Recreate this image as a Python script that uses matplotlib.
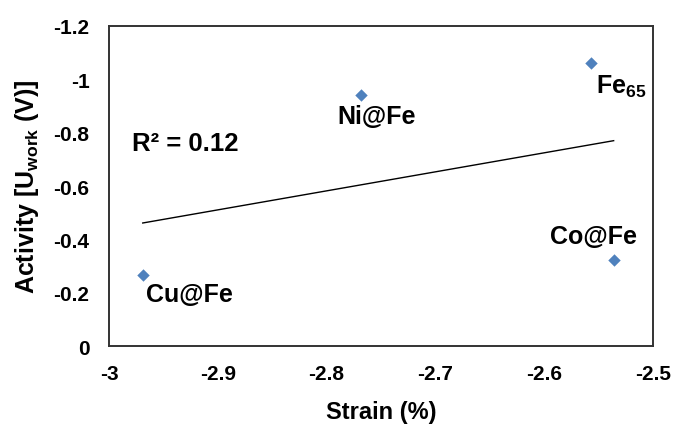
import numpy as np
import matplotlib
matplotlib.use("Agg")
import matplotlib.pyplot as plt

# strain (%) vs activity (U_work, V) for the core@shell particles
names = ["Cu@Fe", "Ni@Fe", r"Fe$_{\mathbf{65}}$", "Co@Fe"]
strain = [-2.969, -2.768, -2.557, -2.536]
activity = [-0.267, -0.940, -1.060, -0.324]

# label offsets (points) and alignment per sample
offsets = [(2, -14), (11, -15), (4, -21), (17, 17)]
aligns = [("left", "center"), ("center", "center"), ("left", "baseline"), ("right", "center")]

x_ticks = [-3, -2.9, -2.8, -2.7, -2.6, -2.5]
y_ticks = [0, -0.2, -0.4, -0.6, -0.8, -1, -1.2]

plt.rcParams["font.family"] = ["Liberation Sans", "DejaVu Sans"]
plt.rcParams["font.weight"] = "bold"
plt.rcParams["mathtext.fontset"] = "custom"
plt.rcParams["mathtext.rm"] = "Liberation Sans:bold"
plt.rcParams["mathtext.bf"] = "Liberation Sans:bold"
plt.rcParams["mathtext.it"] = "Liberation Sans:bold"


def main():
    fig = plt.figure(figsize=(6.73, 4.27), dpi=100)
    ax = fig.add_axes([0.162, 0.187, 0.808, 0.75])

    ax.scatter(strain, activity, marker="D", s=40, color="#4f81bd", zorder=3, linewidths=0)

    # linear trendline over the data range
    x = np.array(strain)
    y = np.array(activity)
    slope, icpt = np.polyfit(x, y, 1)
    xs = np.array([x.min(), x.max()])
    ax.plot(xs, slope * xs + icpt, color="black", lw=1.0, zorder=2)
    r2 = np.corrcoef(x, y)[0, 1] ** 2
    ax.text(-2.979, -0.76, f"R² = {r2:.2f}", fontsize=18.5, fontweight="bold",
            ha="left", va="center")

    for name, sx, sy, off, (ha, va) in zip(names, strain, activity, offsets, aligns):
        ax.annotate(name, (sx, sy), xytext=off, textcoords="offset points",
                    fontsize=18, fontweight="bold", ha=ha, va=va)

    ax.set_xlim(-3, -2.5)
    ax.set_ylim(0, -1.2)
    ax.set_xticks(x_ticks)
    ax.set_xticklabels([f"{t:g}" for t in x_ticks])
    ax.set_yticks(y_ticks)
    ax.set_yticklabels([f"{t:g}" for t in y_ticks])
    ax.tick_params(length=0, labelsize=15)
    ax.tick_params(axis="x", pad=13)
    ax.tick_params(axis="y", pad=14)
    for lbl in ax.get_xticklabels() + ax.get_yticklabels():
        lbl.set_fontweight("bold")

    for sp in ax.spines.values():
        sp.set_color("#333333")
        sp.set_linewidth(1.4)

    ax.set_xlabel("Strain (%)", fontsize=17, fontweight="bold", labelpad=12)
    ax.set_ylabel(r"Activity [U$_{\mathbf{work}}$ (V)]", fontsize=18, fontweight="bold", labelpad=9)

    fig.savefig("out.png", dpi=100)
    plt.close(fig)


if __name__ == "__main__":
    main()
